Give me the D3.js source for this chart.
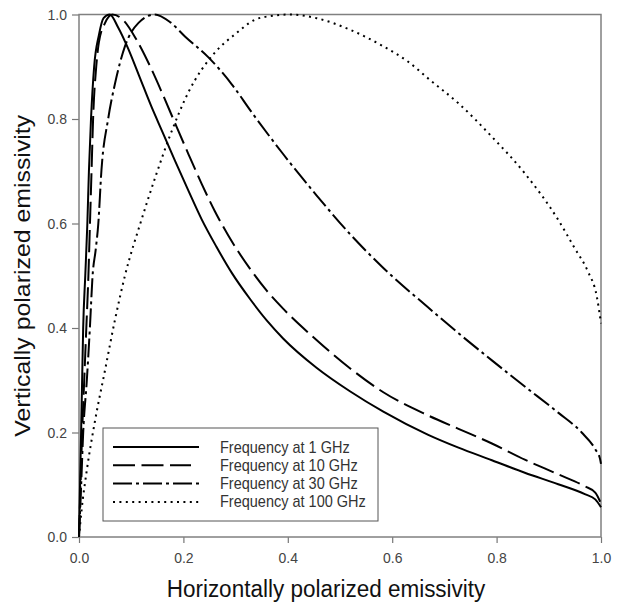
<!DOCTYPE html>
<html>
<head>
<meta charset="utf-8">
<script src="https://cdn.jsdelivr.net/npm/d3@7"></script>
<style>
  body { margin: 0; background: #fff; }
  text { font-family: Arial, "Liberation Sans", sans-serif; }
</style>
</head>
<body>
<div id="chart"></div>
<script>
// values (H emissivity, V emissivity)
var labels = ["Frequency at 1 GHz", "Frequency at 10 GHz", "Frequency at 30 GHz", "Frequency at 100 GHz"];

var h1 = [0, 0.002, 0.004, 0.006, 0.008, 0.012, 0.016, 0.019, 0.023, 0.029, 0.038, 0.047, 0.059, 0.075, 0.094, 0.115, 0.139, 0.160, 0.184, 0.210, 0.235, 0.263, 0.293, 0.328, 0.360, 0.391, 0.455, 0.519, 0.583, 0.668, 0.727, 0.791, 0.854, 0.918, 0.969, 0.989, 1.0];
var v1 = [0, 0.1, 0.2, 0.3, 0.4, 0.5, 0.6, 0.7, 0.8, 0.9, 0.96, 0.993, 1.0, 0.975, 0.935, 0.883, 0.823, 0.775, 0.720, 0.662, 0.608, 0.556, 0.505, 0.455, 0.414, 0.380, 0.324, 0.279, 0.240, 0.196, 0.171, 0.147, 0.123, 0.101, 0.082, 0.072, 0.057];

var h10 = [0, 0.003, 0.006, 0.010, 0.014, 0.018, 0.021, 0.024, 0.027, 0.033, 0.038, 0.050, 0.064, 0.086, 0.110, 0.139, 0.160, 0.184, 0.210, 0.235, 0.260, 0.286, 0.330, 0.360, 0.391, 0.455, 0.519, 0.583, 0.668, 0.727, 0.791, 0.854, 0.918, 0.969, 0.989, 1.0];
var v10 = [0, 0.1, 0.2, 0.3, 0.4, 0.5, 0.6, 0.7, 0.8, 0.9, 0.946, 0.984, 1.0, 0.988, 0.952, 0.895, 0.848, 0.792, 0.732, 0.676, 0.624, 0.577, 0.510, 0.471, 0.437, 0.377, 0.323, 0.277, 0.233, 0.207, 0.179, 0.148, 0.120, 0.097, 0.085, 0.064];

var h30 = [0, 0.004, 0.008, 0.015, 0.021, 0.026, 0.032, 0.037, 0.043, 0.056, 0.069, 0.088, 0.114, 0.145, 0.175, 0.203, 0.248, 0.293, 0.330, 0.391, 0.455, 0.519, 0.583, 0.668, 0.727, 0.791, 0.854, 0.918, 0.963, 0.989, 0.998, 1.0];
var v30 = [0, 0.096, 0.199, 0.30, 0.403, 0.50, 0.55, 0.600, 0.702, 0.801, 0.868, 0.939, 0.984, 1.0, 0.985, 0.958, 0.918, 0.866, 0.814, 0.733, 0.654, 0.580, 0.515, 0.440, 0.390, 0.338, 0.288, 0.238, 0.200, 0.168, 0.150, 0.140];

var h100 = [0, 0.005, 0.015, 0.031, 0.050, 0.069, 0.088, 0.120, 0.148, 0.175, 0.209, 0.261, 0.300, 0.337, 0.366, 0.405, 0.455, 0.519, 0.583, 0.630, 0.672, 0.727, 0.791, 0.854, 0.918, 0.950, 0.975, 0.992, 1.0];
var v100 = [0, 0.052, 0.128, 0.224, 0.320, 0.416, 0.500, 0.608, 0.694, 0.770, 0.850, 0.928, 0.963, 0.99, 0.997, 1.0, 0.993, 0.971, 0.939, 0.91, 0.875, 0.830, 0.766, 0.696, 0.607, 0.552, 0.508, 0.460, 0.409];

var ticks = [0, 0.2, 0.4, 0.6, 0.8, 1.0];

var series = [
  { name: labels[0], h: h1, v: v1, dash: null, len: 86 },
  { name: labels[1], h: h10, v: v10, dash: "22,6.5", len: 78 },
  { name: labels[2], h: h30, v: v30, dash: "19,4,3,4", len: 86 },
  { name: labels[3], h: h100, v: v100, dash: "2,4.4", len: 86 }
];

var W = 622, H = 605;
var margin = { top: 14.5, left: 79, right: 21, bottom: 68 };
var width = W - margin.left - margin.right,
    height = H - margin.top - margin.bottom;
var stretch = 1.1; // reference text is slightly taller than wide

var svg = d3.select("#chart")
  .append("svg")
  .attr("width", W)
  .attr("height", H);

var g = svg.append("g")
  .attr("transform", "translate(" + margin.left + "," + margin.top + ")");

var x = d3.scaleLinear().domain([0, 1]).range([0, width]);
var y = d3.scaleLinear().domain([0, 1]).range([height, 0]);

var fmt = d3.format(".1f");

var xAxis = g.append("g")
  .attr("transform", "translate(0," + height + ")")
  .call(d3.axisBottom(x).tickValues(ticks).tickFormat(fmt).tickSize(6).tickPadding(8));
var yAxis = g.append("g")
  .call(d3.axisLeft(y).tickValues(ticks).tickFormat(fmt).tickSize(7).tickPadding(5));

[xAxis, yAxis].forEach(function(a) {
  a.select(".domain").remove();
  a.selectAll(".tick line").attr("stroke", "#777").attr("stroke-width", 1.2);
  a.selectAll(".tick text")
    .attr("fill", "#444")
    .attr("transform", "scale(1," + stretch + ")")
    .style("font-size", "14px")
    .style("font-family", "Arial, 'Liberation Sans', sans-serif");
});

// frame
g.append("rect")
  .attr("x", 0).attr("y", 0)
  .attr("width", width).attr("height", height)
  .attr("fill", "none")
  .attr("stroke", "#808080")
  .attr("stroke-width", 1.5);

var line = d3.line()
  .x(function(d) { return x(d[0]); })
  .y(function(d) { return y(d[1]); })
  .curve(d3.curveMonotoneX);

series.forEach(function(s) {
  var pts = s.h.map(function(hv, i) { return [hv, s.v[i]]; });
  g.append("path")
    .datum(pts)
    .attr("d", line)
    .attr("fill", "none")
    .attr("stroke", "#000")
    .attr("stroke-width", 2)
    .attr("stroke-dasharray", s.dash);
});

// legend
var lg = svg.append("g").attr("transform", "translate(103,428)");
lg.append("rect")
  .attr("width", 275).attr("height", 93)
  .attr("fill", "#fff")
  .attr("stroke", "#555")
  .attr("stroke-width", 1);

series.forEach(function(s, i) {
  var yy = 19 + i * 18.3;
  lg.append("line")
    .attr("x1", 10).attr("x2", 10 + s.len)
    .attr("y1", yy).attr("y2", yy)
    .attr("stroke", "#000")
    .attr("stroke-width", 2)
    .attr("stroke-dasharray", s.dash);
  lg.append("text")
    .attr("transform", "translate(117," + (yy + 5.5) + ") scale(1," + stretch + ")")
    .attr("fill", "#333")
    .style("font-size", "14.5px")
    .text(s.name);
});

svg.append("text")
  .attr("text-anchor", "middle")
  .attr("transform", "translate(326,597) scale(1," + stretch + ")")
  .attr("fill", "#111")
  .style("font-size", "22.5px")
  .text("Horizontally polarized emissivity");

svg.append("text")
  .attr("text-anchor", "middle")
  .attr("transform", "translate(30," + (margin.top + height / 2) + ") scale(1,1.13) rotate(-90)")
  .attr("fill", "#111")
  .style("font-size", "22px")
  .text("Vertically polarized emissivity");
</script>
</body>
</html>
